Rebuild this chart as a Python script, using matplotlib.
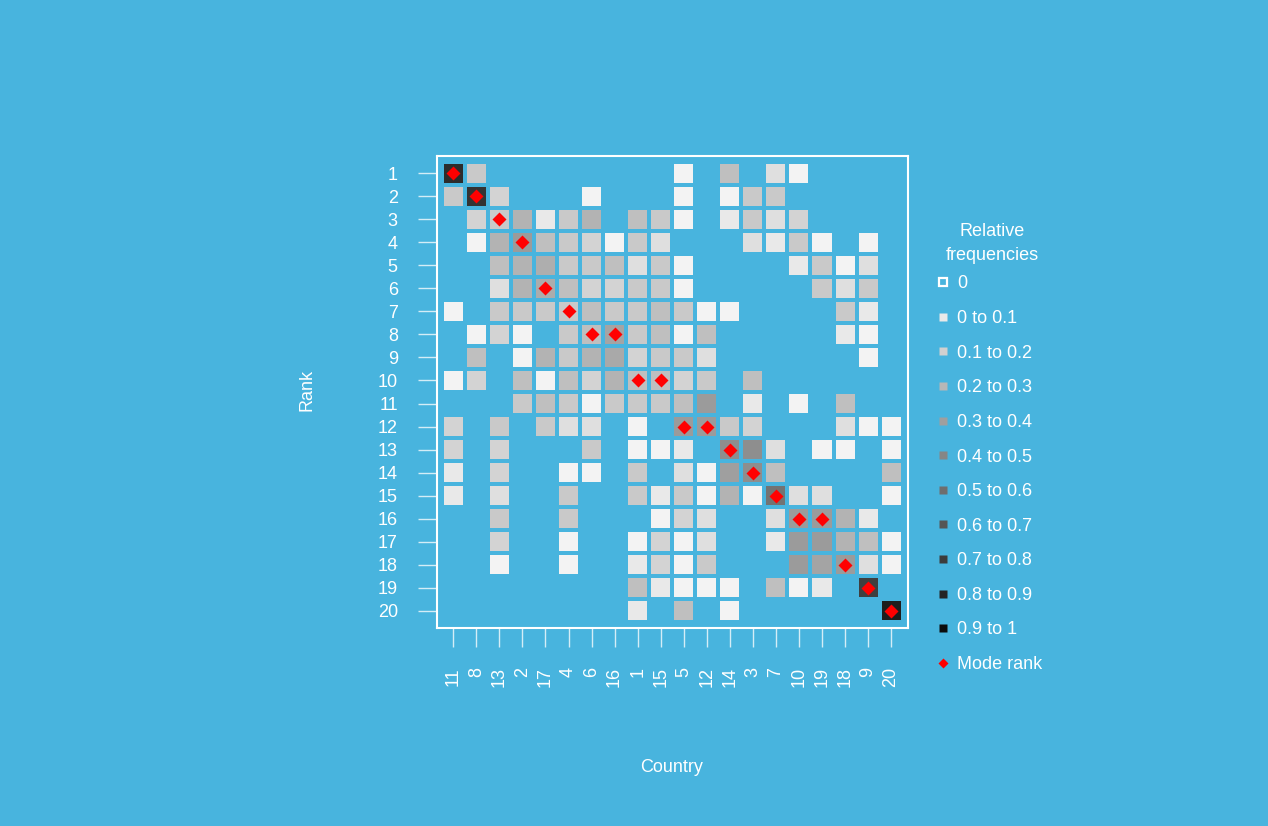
import numpy as np
import matplotlib.pyplot as plt
from matplotlib.colors import LinearSegmentedColormap, Normalize

plt.rcParams["font.family"] = ["Liberation Sans", "DejaVu Sans"]

BG = "#48b4de"

countries = ["11", "8", "13", "2", "17", "4", "6", "16", "1", "15",
             "5", "12", "14", "3", "7", "10", "19", "18", "9", "20"]
ranks = list(range(1, 21))
mode_rank = [1, 2, 3, 4, 6, 7, 8, 8, 10, 10, 12, 12, 13, 14, 15, 16, 16, 18, 19, 20]

# relative frequency of each rank (rows) for each country (columns), 0 = never
freq = [
    [.82, .18, 0, 0, 0, 0, 0, 0, 0, 0, .01, 0, .22, 0, .09, .01, 0, 0, 0, 0],
    [.18, .79, .14, 0, 0, 0, .01, 0, 0, 0, .01, 0, .01, .18, .18, 0, 0, 0, 0, 0],
    [0, .14, .18, .27, .05, .18, .27, 0, .22, .18, .01, 0, .05, .18, .09, .14, 0, 0, 0, 0],
    [0, .01, .27, .37, .22, .18, .14, .01, .18, .09, 0, 0, 0, .09, .05, .18, .01, 0, .01, 0],
    [0, 0, .22, .27, .29, .18, .18, .22, .09, .18, .01, 0, 0, 0, 0, .05, .18, .01, .09, 0],
    [0, 0, .09, .27, .30, .22, .14, .14, .18, .18, .01, 0, 0, 0, 0, 0, .18, .09, .18, 0],
    [.01, 0, .18, .18, .18, .18, .22, .18, .18, .22, .18, .01, .01, 0, 0, 0, 0, .18, .05, 0],
    [0, .01, .14, .01, 0, .18, .22, .33, .18, .22, .01, .22, 0, 0, 0, 0, 0, .05, .01, 0],
    [0, .22, 0, .01, .27, .18, .27, .31, .14, .18, .18, .09, 0, 0, 0, 0, 0, 0, .01, 0],
    [.01, .14, 0, .22, .01, .22, .14, .27, .22, .22, .14, .18, 0, .22, 0, 0, 0, 0, 0, 0],
    [0, 0, 0, .18, .22, .18, .01, .18, .18, .18, .22, .37, 0, .05, 0, .01, 0, .22, 0, 0],
    [.14, 0, .18, 0, .18, .09, .09, 0, .01, 0, .37, .37, .18, .14, 0, 0, 0, .09, .01, .01],
    [.14, 0, .14, 0, 0, 0, .18, 0, .01, .01, .05, 0, .42, .42, .09, 0, .01, .01, 0, .01],
    [.05, 0, .14, 0, 0, .01, .01, 0, .18, 0, .09, .01, .35, .42, .22, 0, 0, 0, 0, .22],
    [.05, 0, .09, 0, 0, .18, 0, 0, .18, .05, .18, .01, .27, .01, .53, .09, .09, 0, 0, .01],
    [0, 0, .18, 0, 0, .18, 0, 0, 0, .01, .14, .09, 0, 0, .09, .37, .37, .27, .05, 0],
    [0, 0, .14, 0, 0, .01, 0, 0, .01, .14, .01, .09, 0, 0, .05, .37, .37, .27, .22, .01],
    [0, 0, .01, 0, 0, .01, 0, 0, .05, .14, .01, .18, 0, 0, 0, .37, .33, .37, .09, .01],
    [0, 0, 0, 0, 0, 0, 0, 0, .22, .05, .01, .01, .01, 0, .22, .01, .05, 0, .74, 0],
    [0, 0, 0, 0, 0, 0, 0, 0, .05, 0, .22, 0, .01, 0, 0, 0, 0, 0, 0, .88],
]

bins = [(0.0, 0.1), (0.1, 0.2), (0.2, 0.3), (0.3, 0.4), (0.4, 0.5),
        (0.5, 0.6), (0.6, 0.7), (0.7, 0.8), (0.8, 0.9), (0.9, 1.0)]

cmap = LinearSegmentedColormap.from_list("relfreq", [(0.96, 0.96, 0.96), (0, 0, 0)])
norm = Normalize(0, 1)

fig = plt.figure(figsize=(12.68, 8.26), dpi=100, facecolor=BG)
ax = fig.add_axes([436.7 / 1268, 1 - 628 / 826, 471 / 1268, 472 / 826])
ax.set_facecolor(BG)

F = np.ma.masked_equal(np.array(freq), 0)
edges = np.arange(0.5, 21)
ax.pcolormesh(edges, edges, F, cmap=cmap, norm=norm,
              edgecolors=BG, linewidth=1.5)

# mode rank of every country
ax.plot(np.arange(1, 21), mode_rank, "D", color="red", ms=7.4, mec="none")

ax.set_xlim(0.28, 20.72)
ax.set_ylim(20.75, 0.25)
for s in ax.spines.values():
    s.set_color("white")
    s.set_linewidth(1.5)

ax.set_xticks(np.arange(1, 21))
ax.set_xticklabels(countries, rotation=90)
ax.set_yticks(ranks)
ax.set_yticklabels([str(r) for r in ranks])
ax.tick_params(length=14, width=1, color="#d4edf7", pad=14,
               labelcolor="white", labelsize=13)

fig.text(307 / 1268, 1 - 390 / 826, "Rank", rotation=90, color="white",
         fontsize=13, ha="center", va="center")
fig.text(672 / 1268, 1 - 768 / 826, "Country", color="white",
         fontsize=13, ha="center", va="center")

# legend, drawn in pixel coordinates
lg = fig.add_axes([0, 0, 1, 1], facecolor="none")
lg.set_xlim(0, 1268)
lg.set_ylim(826, 0)
lg.axis("off")
lg.text(992, 232, "Relative", color="white", fontsize=13, ha="center", va="center")
lg.text(992, 255, "frequencies", color="white", fontsize=13, ha="center", va="center")

y0, dy = 284, 34.6
mk = -1.8  # markers sit slightly above the text box centre
lg.plot(943, y0 + mk, "s", ms=5.4, mfc="none", mec="white", mew=1.6)
lg.text(957, y0, "0", color="white", fontsize=13, va="center")
for k, (lo, hi) in enumerate(bins):
    y = y0 + dy * (k + 1)
    lg.plot(943, y + mk, "s", ms=6.2, color=cmap(norm((lo + hi) / 2)), mec="none")
    lab = f"{lo:g} to {hi:g}"
    lg.text(957, y, lab, color="white", fontsize=13, va="center")
y = y0 + dy * (len(bins) + 1)
lg.plot(943, y + mk, "D", ms=4.6, color="red", mec="none")
lg.text(957, y, "Mode rank", color="white", fontsize=13, va="center")

fig.savefig("out.png", dpi=100, facecolor=BG)
